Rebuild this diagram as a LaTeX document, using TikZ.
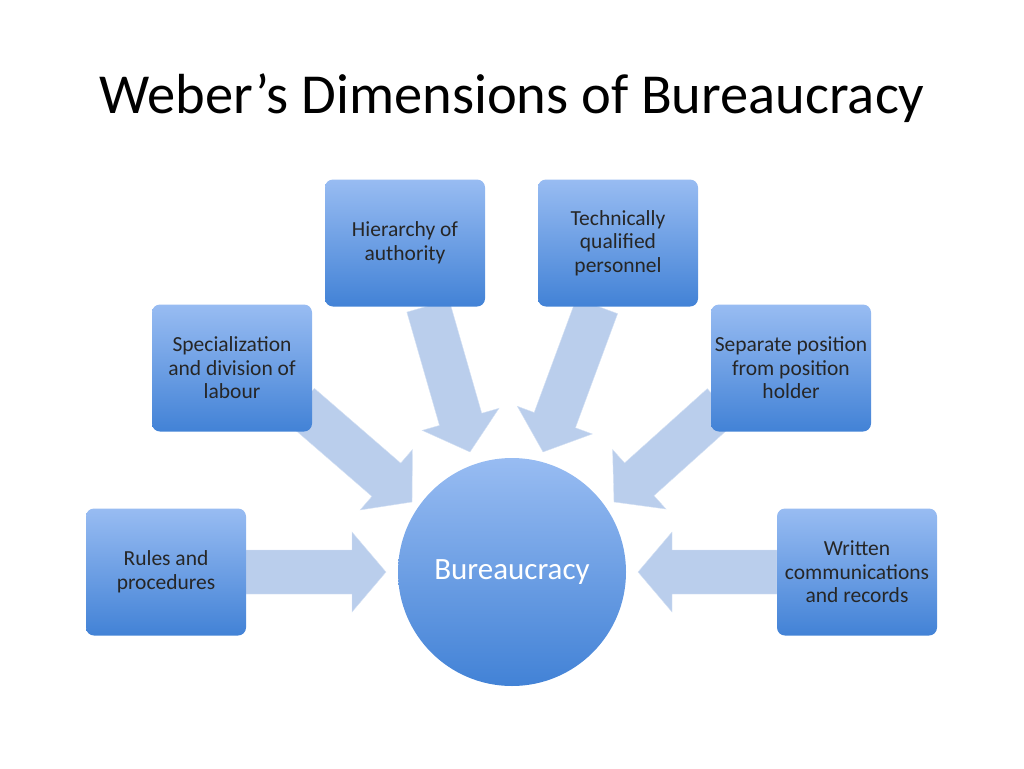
\documentclass[tikz,border=0pt]{standalone}
\usepackage{fontspec}
\setmainfont{Carlito}
\usetikzlibrary{calc}
\definecolor{boxtop}{RGB}{152,188,242}
\definecolor{boxbot}{RGB}{66,130,214}
\definecolor{arrowfill}{RGB}{186,206,236}
\definecolor{arrowedge}{RGB}{214,226,244}
\begin{document}
\begin{tikzpicture}[x=1pt,y=-1pt]
\tikzset{dimbox/.style={rounded corners=8pt,top color=boxtop,bottom color=boxbot,
  minimum width=160pt,minimum height=127pt,align=center,font=\fontsize{21.5}{23.5}\selectfont,
  text=black!85,inner sep=2pt},
  hub/.style={circle,top color=boxtop,bottom color=boxbot,minimum size=228pt,
  text=white,font=\fontsize{31}{34}\selectfont}}
% block arrow: #1 from, #2 to
\newcommand{\blockarrow}[2]{%
  \path[fill=arrowfill,draw=arrowedge] let \p1=(#1), \p2=(#2), \n1={atan2(\y2-\y1,\x2-\x1)}, \n2={veclen(\x2-\x1,\y2-\y1)} in
  [shift={(\p1)},rotate=\n1]
  (0,-22) -- (\n2-34,-22) -- (\n2-34,-40) -- (\n2,0) -- (\n2-34,40) -- (\n2-34,22) -- (0,22) -- cycle;}
\useasboundingbox (0,0) rectangle (1024,768);
\node (title) at (512,98) {\fontsize{56.5}{64}\selectfont Weber’s Dimensions of Bureaucracy};
\coordinate (hs) at (428,306); \coordinate (he) at (470,452);
\coordinate (ts) at (597,306); \coordinate (te) at (543,452);
\coordinate (ss) at (300,405); \coordinate (se) at (412,502);
\coordinate (ps) at (722,405); \coordinate (pe) at (614,502);
\coordinate (rs) at (246,572); \coordinate (re) at (386,572);
\coordinate (ws) at (777,572); \coordinate (we) at (638,572);
\blockarrow{hs}{he}
\blockarrow{ts}{te}
\blockarrow{ss}{se}
\blockarrow{ps}{pe}
\blockarrow{rs}{re}
\blockarrow{ws}{we}
\node[hub] (bur) at (512,572) {Bureaucracy};
\node[dimbox] (hier) at (405,243) {Hierarchy of\\authority};
\node[dimbox] (tech) at (618,243) {Technically\\qualified\\personnel};
\node[dimbox] (spec) at (232,368) {Specialization\\and division of\\labour};
\node[dimbox] (sep) at (791,368) {Separate position\\from position\\holder};
\node[dimbox] (rules) at (166,572) {Rules and\\procedures};
\node[dimbox] (writ) at (857,572) {Written\\communications\\and records};
\end{tikzpicture}
\end{document}
